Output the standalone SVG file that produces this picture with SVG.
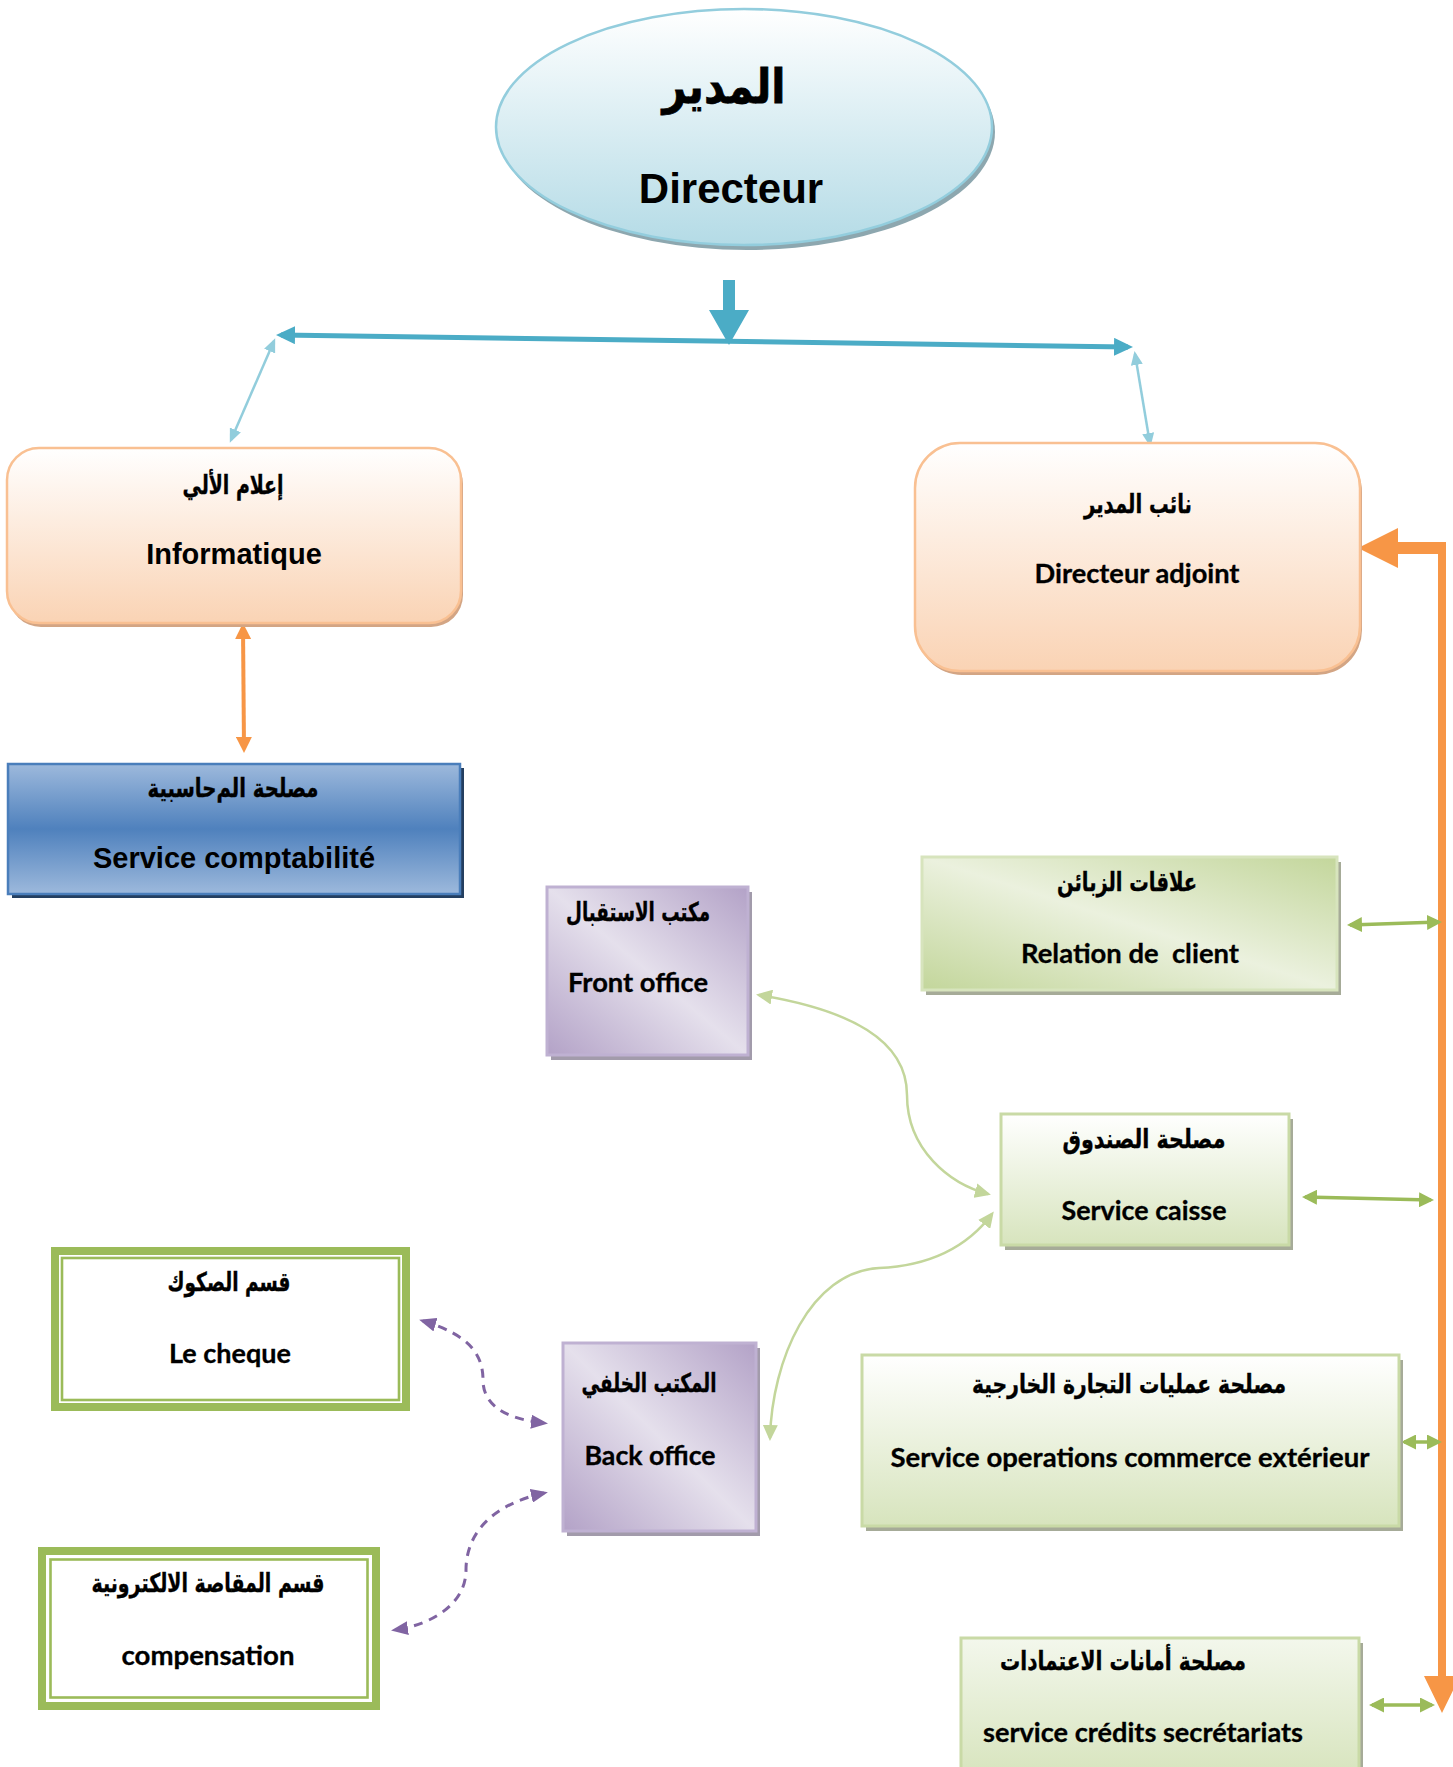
<svg xmlns="http://www.w3.org/2000/svg" width="1453" height="1767" viewBox="0 0 1453 1767">
<style>
.ar{font-family:"DejaVu Sans",sans-serif;font-weight:bold;font-size:26px;text-anchor:middle;fill:#000;stroke:#000;stroke-width:0.4}
.ar-big{font-size:48px;stroke-width:0.8}
.en{font-family:"Liberation Sans",Arial,sans-serif;font-weight:bold;font-size:29px;text-anchor:middle;fill:#000}
.cal{font-family:Lato,"Liberation Sans",sans-serif;font-weight:bold;font-size:26.5px;text-anchor:middle;fill:#000;white-space:pre;stroke:#000;stroke-width:0.3}
.c-blue{fill:none;stroke:#4BACC6;stroke-width:5}
.c-ltblue{fill:none;stroke:#92CDDC;stroke-width:2.5}
.c-orange{fill:none;stroke:#F79646;stroke-width:4}
.c-green{fill:none;stroke:#9BBB59;stroke-width:3.5}
.c-ltgreen{fill:none;stroke:#C3D69B;stroke-width:2.5}
.c-purple{fill:none;stroke:#8064A2;stroke-width:3;stroke-dasharray:9 7}
.sh-orange{fill:#D3A584}
.sh-green{fill:#A6AB98}
.sh-purple{fill:#A29BAB}
.dbl-out{fill:#fff;stroke:#9BBB59;stroke-width:8}
.dbl-in{fill:none;stroke:#9BBB59;stroke-width:2.6}
</style>
<defs>
 <linearGradient id="gEll" x1="0" y1="0" x2="0" y2="1">
  <stop offset="0" stop-color="#FFFFFF"/>
  <stop offset="1" stop-color="#B4DBE6"/>
 </linearGradient>
 <linearGradient id="gOrange" x1="0" y1="0" x2="0" y2="1">
  <stop offset="0" stop-color="#FFFFFF"/>
  <stop offset="1" stop-color="#FAD3B4"/>
 </linearGradient>
 <linearGradient id="gBlue" x1="0" y1="0" x2="0" y2="1">
  <stop offset="0" stop-color="#9DB9DC"/>
  <stop offset="0.5" stop-color="#4F81BD"/>
  <stop offset="1" stop-color="#9DB9DC"/>
 </linearGradient>
 <linearGradient id="gGreenDiag" x1="0" y1="1" x2="1" y2="0">
  <stop offset="0" stop-color="#C3D69B"/>
  <stop offset="0.5" stop-color="#EBF1DE"/>
  <stop offset="1" stop-color="#C3D69B"/>
 </linearGradient>
 <linearGradient id="gGreenV" x1="0" y1="0" x2="0" y2="1">
  <stop offset="0" stop-color="#FFFFFF"/>
  <stop offset="1" stop-color="#D7E4BD"/>
 </linearGradient>
 <linearGradient id="gGreenV2" x1="0" y1="0" x2="0" y2="1">
  <stop offset="0" stop-color="#F3F7EC"/>
  <stop offset="1" stop-color="#D7E4BD"/>
 </linearGradient>
 <linearGradient id="gPurple" x1="0" y1="1" x2="1" y2="0">
  <stop offset="0" stop-color="#B3A2C7"/>
  <stop offset="0.5" stop-color="#E5E0EC"/>
  <stop offset="1" stop-color="#B3A2C7"/>
 </linearGradient>
 <marker id="aBlue" viewBox="0 0 19 18" refX="14" refY="9" markerWidth="19" markerHeight="18" markerUnits="userSpaceOnUse" orient="auto-start-reverse"><path d="M0,0 L19,9 L0,18 z" fill="#4BACC6"/></marker>
 <marker id="aLtBlue" viewBox="0 0 14 12" refX="11" refY="6" markerWidth="14" markerHeight="12" markerUnits="userSpaceOnUse" orient="auto-start-reverse"><path d="M0,0 L14,6 L0,12 z" fill="#92CDDC"/></marker>
 <marker id="aOrange" viewBox="0 0 16 16" refX="12" refY="8" markerWidth="16" markerHeight="16" markerUnits="userSpaceOnUse" orient="auto-start-reverse"><path d="M0,0 L16,8 L0,16 z" fill="#F79646"/></marker>
 <marker id="aGreen" viewBox="0 0 15 15" refX="12" refY="7.5" markerWidth="15" markerHeight="15" markerUnits="userSpaceOnUse" orient="auto-start-reverse"><path d="M0,0 L15,7.5 L0,15 z" fill="#9BBB59"/></marker>
 <marker id="aLtGreen" viewBox="0 0 16 15" refX="13" refY="7.5" markerWidth="16" markerHeight="15" markerUnits="userSpaceOnUse" orient="auto-start-reverse"><path d="M0,0 L16,7.5 L0,15 z" fill="#C3D69B"/></marker>
 <marker id="aPurple" viewBox="0 0 17 14" refX="13" refY="7" markerWidth="17" markerHeight="14" markerUnits="userSpaceOnUse" orient="auto-start-reverse"><path d="M0,0 L17,7 L0,14 z" fill="#8064A2"/></marker>
</defs>

<rect width="1453" height="1767" fill="#FFFFFF"/>

<g id="connectors">
 <polygon points="723,280 735,280 735,310 749,310 729,345 709,310 723,310" fill="#4BACC6"/>
 <path class="c-blue" d="M281,335 L1128,347" marker-start="url(#aBlue)" marker-end="url(#aBlue)"/>
 <path class="c-ltblue" d="M274,341 L231,440" marker-start="url(#aLtBlue)" marker-end="url(#aLtBlue)"/>
 <path class="c-ltblue" d="M1135,354 L1150,444" marker-start="url(#aLtBlue)" marker-end="url(#aLtBlue)"/>
 <path class="c-orange" d="M243,627 L244,749" marker-start="url(#aOrange)" marker-end="url(#aOrange)"/>
 <path d="M1358,548 L1398,528 L1398,542 L1446,542 L1446,1676 L1460,1676 L1442,1713 L1424,1676 L1438,1676 L1438,554 L1398,554 L1398,568 Z" fill="#F79646"/>
 <path class="c-green" d="M1350,925 L1439,922" marker-start="url(#aGreen)" marker-end="url(#aGreen)"/>
 <path class="c-green" d="M1305,1197 L1431,1200" marker-start="url(#aGreen)" marker-end="url(#aGreen)"/>
 <path class="c-green" d="M1404,1442 L1439,1442" marker-start="url(#aGreen)" marker-end="url(#aGreen)"/>
 <path class="c-green" d="M1372,1705 L1432,1705" marker-start="url(#aGreen)" marker-end="url(#aGreen)"/>
 <path class="c-ltgreen" d="M759,995 C850,1010 907,1040 907,1095 C907,1150 950,1184 988,1194" marker-start="url(#aLtGreen)" marker-end="url(#aLtGreen)"/>
 <path class="c-ltgreen" d="M992,1214 C965,1250 925,1266 879,1268 C810,1272 772,1360 770,1438" marker-start="url(#aLtGreen)" marker-end="url(#aLtGreen)"/>
 <path class="c-purple" d="M423,1321 C470,1335 483,1355 483,1380 C483,1410 515,1420 544,1423" marker-start="url(#aPurple)" marker-end="url(#aPurple)"/>
 <path class="c-purple" d="M544,1493 C490,1505 466,1535 466,1570 C466,1605 430,1625 395,1630" marker-start="url(#aPurple)" marker-end="url(#aPurple)"/>
</g>

<g id="directeur">
 <ellipse cx="747" cy="132" rx="248" ry="118" fill="#8DA7AF"/>
 <ellipse cx="744" cy="127" rx="248" ry="118" fill="url(#gEll)" stroke="#93CDDD" stroke-width="2.5"/>
 <text class="ar ar-big" x="724" y="103" textLength="123" lengthAdjust="spacingAndGlyphs">المدير</text>
 <text class="en" style="font-size:42px" x="731" y="203">Directeur</text>
</g>

<g id="informatique">
 <rect x="9" y="452" width="454" height="175" rx="32" class="sh-orange"/>
 <rect x="7" y="448" width="454" height="175" rx="32" fill="url(#gOrange)" stroke="#F9C092" stroke-width="2.5"/>
 <text class="ar" x="233" y="494" textLength="101" lengthAdjust="spacingAndGlyphs">إعلام الألي</text>
 <text class="en" x="234" y="564">Informatique</text>
</g>

<g id="directeur-adjoint">
 <rect x="917" y="447" width="445" height="228" rx="45" class="sh-orange"/>
 <rect x="915" y="443" width="445" height="228" rx="45" fill="url(#gOrange)" stroke="#F9C092" stroke-width="2.5"/>
 <text class="ar" x="1138" y="513" textLength="108" lengthAdjust="spacingAndGlyphs">نائب المدير</text>
 <text class="cal" x="1137" y="583" textLength="205" lengthAdjust="spacingAndGlyphs">Directeur adjoint</text>
</g>

<g id="comptabilite">
 <rect x="12" y="768" width="452" height="130" fill="#243F60"/>
 <rect x="8" y="764" width="452" height="130" fill="url(#gBlue)" stroke="#4A7EBB" stroke-width="2.5"/>
 <text class="ar" x="233" y="797" textLength="171" lengthAdjust="spacingAndGlyphs">مصلحة الم‌حاسبية</text>
 <text class="en" x="234" y="868">Service comptabilité</text>
</g>

<g id="front-office">
 <rect x="551" y="892" width="201" height="168" class="sh-purple"/>
 <rect x="547" y="887" width="201" height="168" fill="url(#gPurple)" stroke="#BFB1D2" stroke-width="3"/>
 <text class="ar" x="638" y="921" textLength="144" lengthAdjust="spacingAndGlyphs">مكتب الاستقبال</text>
 <text class="cal" x="638" y="992" textLength="140" lengthAdjust="spacingAndGlyphs">Front office</text>
</g>

<g id="relation-client">
 <rect x="926" y="862" width="415" height="133" class="sh-green"/>
 <rect x="922" y="857" width="415" height="133" fill="url(#gGreenDiag)" stroke="#D7E4BD" stroke-width="3"/>
 <text class="ar" x="1127" y="891" textLength="140" lengthAdjust="spacingAndGlyphs">علاقات الزبائن</text>
 <text class="cal" x="1130" y="963" textLength="218" lengthAdjust="spacingAndGlyphs">Relation de  client</text>
</g>

<g id="service-caisse">
 <rect x="1005" y="1119" width="288" height="131" class="sh-green"/>
 <rect x="1001" y="1114" width="288" height="131" fill="url(#gGreenV)" stroke="#C9DAA6" stroke-width="3"/>
 <text class="ar" x="1144" y="1148" textLength="163" lengthAdjust="spacingAndGlyphs">مصلحة الصندوق</text>
 <text class="cal" x="1144" y="1220" textLength="165" lengthAdjust="spacingAndGlyphs">Service caisse</text>
</g>

<g id="le-cheque">
 <rect x="55" y="1251" width="351" height="156" class="dbl-out"/>
 <rect x="62" y="1258" width="337" height="142" class="dbl-in"/>
 <text class="ar" x="229" y="1291" textLength="123" lengthAdjust="spacingAndGlyphs">قسم الصكوك</text>
 <text class="cal" x="230" y="1363" textLength="122" lengthAdjust="spacingAndGlyphs">Le cheque</text>
</g>

<g id="back-office">
 <rect x="567" y="1348" width="193" height="188" class="sh-purple"/>
 <rect x="563" y="1343" width="193" height="188" fill="url(#gPurple)" stroke="#BFB1D2" stroke-width="3"/>
 <text class="ar" x="649" y="1392" textLength="135" lengthAdjust="spacingAndGlyphs">المكتب الخلفي</text>
 <text class="cal" x="650" y="1465" textLength="131" lengthAdjust="spacingAndGlyphs">Back office</text>
</g>

<g id="commerce-exterieur">
 <rect x="866" y="1360" width="537" height="171" class="sh-green"/>
 <rect x="862" y="1355" width="537" height="171" fill="url(#gGreenV)" stroke="#C9DAA6" stroke-width="3"/>
 <text class="ar" x="1129" y="1393" textLength="314" lengthAdjust="spacingAndGlyphs">مصلحة عمليات التجارة الخارجية</text>
 <text class="cal" x="1130" y="1467" textLength="479" lengthAdjust="spacingAndGlyphs">Service operations commerce extérieur</text>
</g>

<g id="compensation">
 <rect x="42" y="1551" width="334" height="155" class="dbl-out"/>
 <rect x="50.5" y="1559.5" width="317" height="138" class="dbl-in"/>
 <text class="ar" x="208" y="1592" textLength="233" lengthAdjust="spacingAndGlyphs">قسم المقاصة الالكترونية</text>
 <text class="cal" x="208" y="1665" textLength="173" lengthAdjust="spacingAndGlyphs">compensation</text>
</g>

<g id="credits-secretariats">
 <rect x="965" y="1643" width="398" height="140" class="sh-green"/>
 <rect x="961" y="1638" width="398" height="140" fill="url(#gGreenV2)" stroke="#C9DAA6" stroke-width="3"/>
 <text class="ar" x="1123" y="1670" textLength="246" lengthAdjust="spacingAndGlyphs">مصلحة أمانات الاعتمادات</text>
 <text class="cal" x="1143" y="1742" textLength="320" lengthAdjust="spacingAndGlyphs">service crédits secrétariats</text>
</g>
</svg>
